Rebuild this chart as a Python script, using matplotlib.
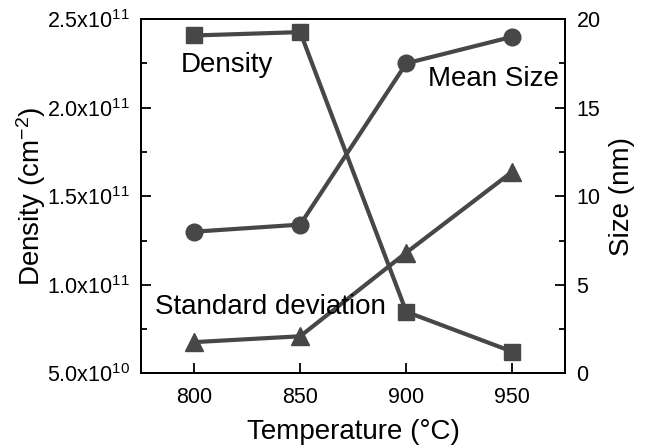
import matplotlib
matplotlib.use("Agg")
import matplotlib.pyplot as plt
from matplotlib.ticker import MultipleLocator, FixedLocator

plt.rcParams['font.family'] = ['Liberation Sans', 'DejaVu Sans']
plt.rcParams['mathtext.fontset'] = 'custom'
plt.rcParams['mathtext.rm'] = 'Liberation Sans'
plt.rcParams['mathtext.it'] = 'Liberation Sans'

# Growth temperature (°C)
temperature = [800, 850, 900, 950]
# Dot density (cm^-2)
density = [2.407e11, 2.426e11, 8.48e10, 6.23e10]
# Mean dot size (nm)
mean_size = [8.0, 8.4, 17.5, 19.0]
# Standard deviation of size (nm)
std_dev = [1.77, 2.1, 6.82, 11.39]

density_ticks = [5.0e10, 1.0e11, 1.5e11, 2.0e11, 2.5e11]
density_tick_labels = [r'5.0x10$^{10}$', r'1.0x10$^{11}$', r'1.5x10$^{11}$',
                       r'2.0x10$^{11}$', r'2.5x10$^{11}$']

color = '#474747'
label_size = 20
tick_size = 15.5

fig = plt.figure(figsize=(6.47, 4.48), dpi=100)
ax = fig.add_axes([0.218, 0.1663, 0.656, 0.7913])
ax2 = ax.twinx()

ax.plot(temperature, density, '-s', color=color, lw=3.0, ms=11, zorder=3)
ax2.plot(temperature, mean_size, '-o', color=color, lw=3.0, ms=12, zorder=3)
ax2.plot(temperature, std_dev, '-^', color=color, lw=3.0, ms=12.5, zorder=3)

ax.set_xlim(775, 975)
ax.set_ylim(5.0e10, 2.5e11)
ax2.set_ylim(0, 20)

ax.xaxis.set_major_locator(FixedLocator(temperature))
ax.yaxis.set_major_locator(FixedLocator(density_ticks))
ax.set_yticklabels(density_tick_labels)
ax.yaxis.set_minor_locator(MultipleLocator(2.5e10))
ax2.yaxis.set_major_locator(MultipleLocator(5))
ax2.yaxis.set_minor_locator(MultipleLocator(2.5))

for a in (ax, ax2):
    a.tick_params(which='major', direction='in', length=7, width=1.3,
                  labelsize=tick_size, pad=8)
    a.tick_params(which='minor', direction='in', length=4, width=1.3)
    for s in a.spines.values():
        s.set_linewidth(1.4)
ax.tick_params(axis='x', which='both', top=False, pad=10)

ax.set_xlabel('Temperature (°C)', fontsize=label_size, labelpad=8)
ax.set_ylabel(r'Density (cm$^{-2}$)', fontsize=label_size, labelpad=-1)
ax2.set_ylabel('Size (nm)', fontsize=label_size, labelpad=6)

ax.text(793.5, 2.24e11, 'Density', fontsize=label_size, va='center', ha='left')
ax2.text(910.0, 16.6, 'Mean Size', fontsize=label_size, va='center', ha='left')
ax2.text(781.5, 3.75, 'Standard deviation', fontsize=label_size,
         va='center', ha='left')

fig.savefig('out.png', dpi=100)
